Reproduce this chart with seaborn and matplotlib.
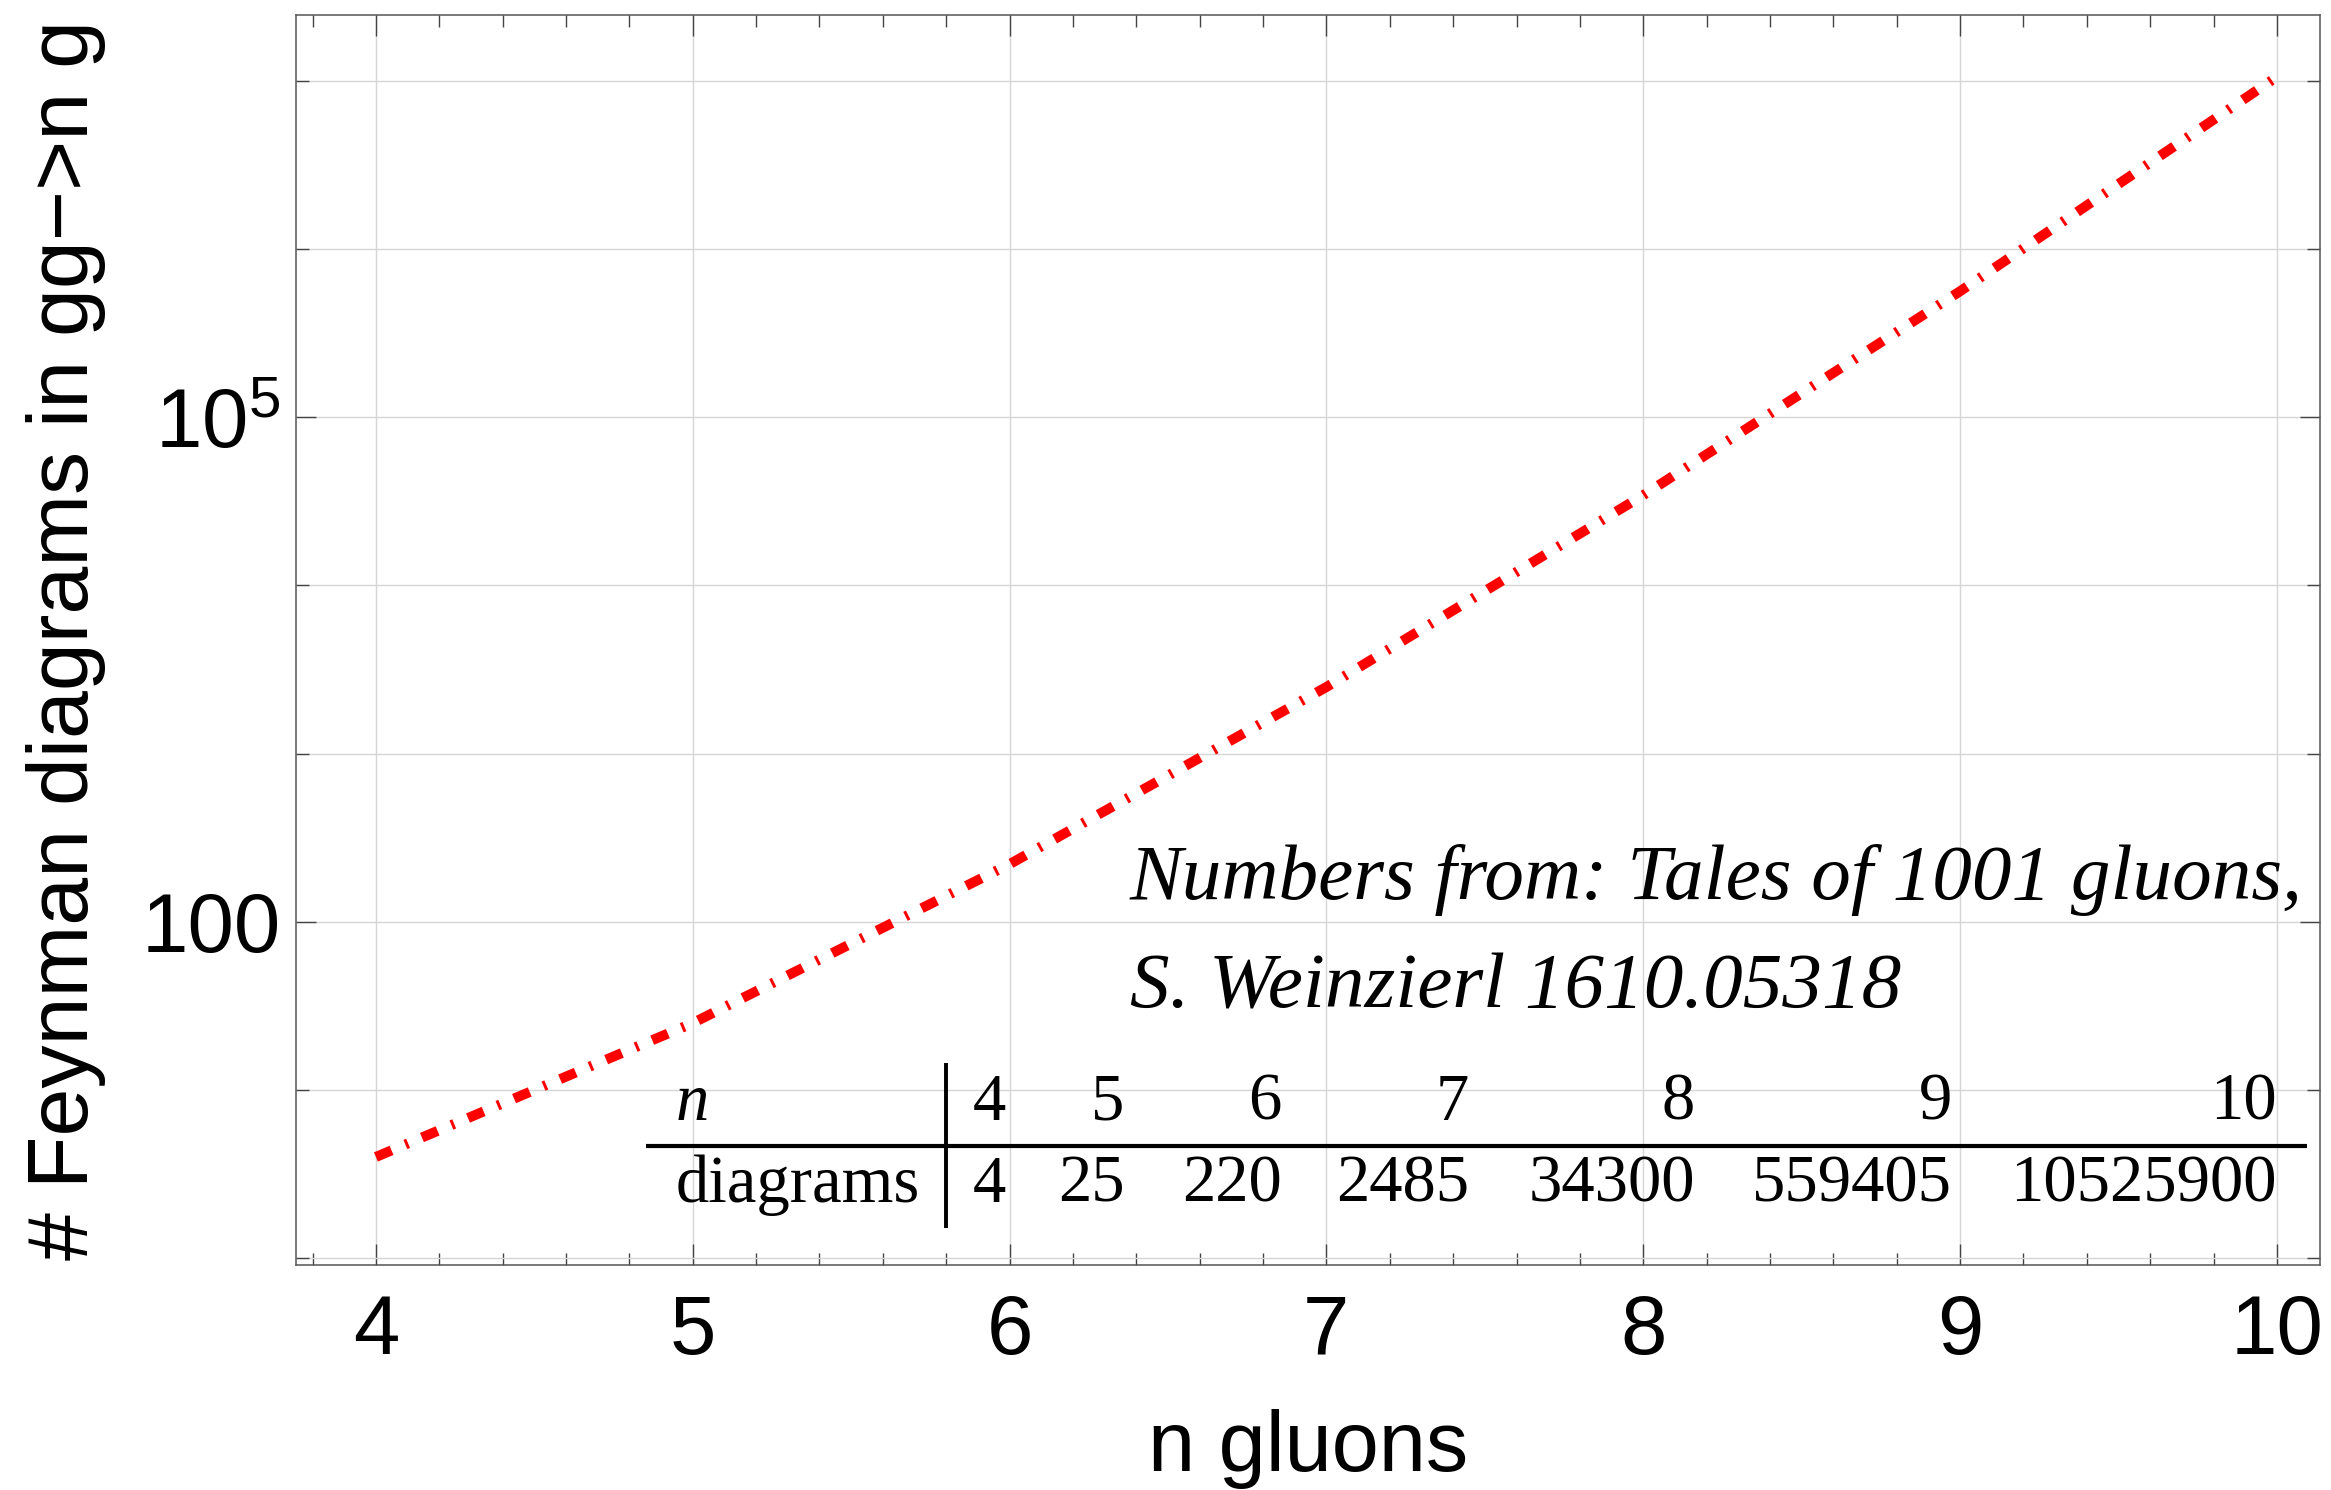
import matplotlib
matplotlib.use("Agg")
import matplotlib.pyplot as plt
import seaborn as sns
import pandas as pd
from matplotlib.ticker import FixedLocator, FixedFormatter, MultipleLocator, NullFormatter

# ---- data ----
n_gluons = [4, 5, 6, 7, 8, 9, 10]
diagrams = [4, 25, 220, 2485, 34300, 559405, 10525900]
x_ticks = [4, 5, 6, 7, 8, 9, 10]
y_major_ticks = [100, 1e5]
y_major_labels = ["100", r"$\mathregular{10^{5}}$"]
y_minor_ticks = [1, 10, 1e3, 1e4, 1e6, 1e7]
x_label = "n gluons"
y_label = "# Feynman diagrams in gg\u2212>n g"
note_lines = ["Numbers from: Tales of 1001 gluons,", "S. Weinzierl 1610.05318"]
table_row_labels = ["n", "diagrams"]

sns.set_style("white")
plt.rcParams['font.family'] = ['Liberation Sans', 'DejaVu Sans']
plt.rcParams['mathtext.fontset'] = 'custom'
plt.rcParams['mathtext.rm'] = 'Liberation Sans'
plt.rcParams['text.color'] = 'black'
plt.rcParams['axes.labelcolor'] = 'black'

fig = plt.figure(figsize=(23.31, 14.90), dpi=100)
ax = fig.add_axes([0.127, 0.151, 0.8683, 0.839])

df = pd.DataFrame({"n": n_gluons, "diagrams": diagrams})
sns.lineplot(data=df, x="n", y="diagrams", ax=ax, color="red", linewidth=7.2)
line = ax.lines[0]
line.set_dashes([1.7, 1.5, 0.3, 1.5])
line.set_dash_capstyle('butt')

ax.set_yscale('log')
ax.set_xlim(3.748, 10.136)
ax.set_ylim(10 ** -0.04, 10 ** 7.39)

ax.xaxis.set_major_locator(FixedLocator(x_ticks))
ax.xaxis.set_minor_locator(MultipleLocator(0.2))
ax.yaxis.set_major_locator(FixedLocator(y_major_ticks))
ax.yaxis.set_major_formatter(FixedFormatter(y_major_labels))
ax.yaxis.set_minor_locator(FixedLocator(y_minor_ticks))
ax.yaxis.set_minor_formatter(NullFormatter())

ax.grid(False)
ax.xaxis.grid(True, which='major', color='#d6d6d6', lw=1.0)
ax.yaxis.grid(True, which='both', color='#d6d6d6', lw=1.0)
ax.set_axisbelow(True)

for s in ax.spines.values():
    s.set_color('#555555')
    s.set_linewidth(1.1)
    s.set_visible(True)

ax.tick_params(axis='both', which='both', direction='in', top=True, right=True,
               bottom=True, left=True, color='#444444', width=1.0, labelcolor='black')
ax.tick_params(axis='x', which='major', length=15, labelsize=60, pad=20)
ax.tick_params(axis='x', which='minor', length=8.5)
ax.tick_params(axis='y', which='major', length=14.5, labelsize=60, pad=11)
ax.tick_params(axis='y', which='minor', length=9.5)

ax.set_xlabel(x_label, fontsize=61)
ax.set_ylabel(y_label, fontsize=62)
ax.xaxis.set_label_coords(0.5, -0.115)
ax.yaxis.set_label_coords(-0.094, 0.5)

# annotation
serif = ['Liberation Serif', 'DejaVu Serif']
ax.text(0.412, 0.293, note_lines[0], transform=ax.transAxes, ha='left', va='baseline',
        fontsize=57, style='italic', family=serif)
ax.text(0.412, 0.2056, note_lines[1], transform=ax.transAxes, ha='left', va='baseline',
        fontsize=57, style='italic', family=serif)

# table
col_right = [0.3506, 0.4094, 0.4870, 0.5796, 0.6910, 0.8181, 0.9787]
row1_y, row2_y = 0.1163, 0.0508
ax.text(0.1875, row1_y, table_row_labels[0], transform=ax.transAxes, ha='left',
        va='baseline', fontsize=48, style='italic', family=serif)
ax.text(0.1875, row2_y, table_row_labels[1], transform=ax.transAxes, ha='left',
        va='baseline', fontsize=48, family=serif)
for xr, nv, dv in zip(col_right, n_gluons, diagrams):
    ax.text(xr, row1_y, str(nv), transform=ax.transAxes, ha='right', va='baseline',
            fontsize=48, family=serif)
    ax.text(xr, row2_y, str(dv), transform=ax.transAxes, ha='right', va='baseline',
            fontsize=48, family=serif)
ax.plot([0.173, 0.9936], [0.0952, 0.0952], transform=ax.transAxes, color='black',
        lw=3.0, solid_capstyle='butt', clip_on=False)
ax.plot([0.321, 0.321], [0.1616, 0.0296], transform=ax.transAxes, color='black',
        lw=2.8, solid_capstyle='butt', clip_on=False)

fig.savefig("out.png", dpi=100)
